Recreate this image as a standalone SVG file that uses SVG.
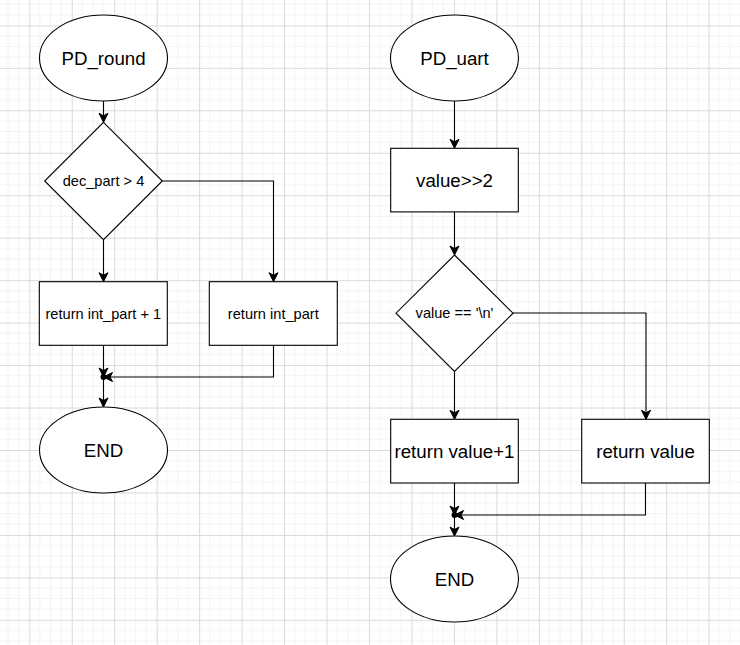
<svg xmlns="http://www.w3.org/2000/svg" width="740" height="645" viewBox="0 0 740 645">
<style>
.s{fill:#fff;stroke:#000;stroke-width:1.1}
.c{fill:none;stroke:#000;stroke-width:1.1}
.t{font-family:"Liberation Sans",Arial,sans-serif;fill:#000;text-anchor:middle;dominant-baseline:central}
.L{font-size:18.7px}
.S{font-size:14.6px}
</style>
<defs>
<pattern id="grid" patternUnits="userSpaceOnUse" x="29.3" y="25.4" width="42.46" height="42.46">
<path d="M10.615,0V42.46M21.23,0V42.46M31.845,0V42.46M0,10.615H42.46M0,21.23H42.46M0,31.845H42.46" stroke="#f3f3f3" stroke-width="1" fill="none"/>
<path d="M0.5,0V42.46M0,0.5H42.46" stroke="#dadada" stroke-width="1" fill="none"/>
</pattern>
<marker id="ar" markerUnits="userSpaceOnUse" markerWidth="12" markerHeight="12" refX="9" refY="4.5" orient="auto" overflow="visible">
<path d="M0,0 L9,4.5 L0,9 L2.5,4.5 z" fill="#000" stroke="#000" stroke-width="1"/>
</marker>
</defs>
<rect x="0" y="0" width="740" height="645" fill="#fff"/>
<rect x="0" y="0" width="740" height="645" fill="url(#grid)"/>

<g id="connectors">
<path class="c" d="M103.5,101V122.3" marker-end="url(#ar)"/>
<path class="c" d="M103.5,239.7V281.7" marker-end="url(#ar)"/>
<path class="c" d="M162.3,181H273.5V281.7" marker-end="url(#ar)"/>
<path class="c" d="M103.5,345.3V377" marker-end="url(#ar)"/>
<path class="c" d="M273.5,345.3V377H103.5" marker-end="url(#ar)"/>
<path class="c" d="M103.5,377V407" marker-end="url(#ar)"/>
<circle cx="103.5" cy="377" r="3" fill="#000"/>

<path class="c" d="M454.5,101V148.3" marker-end="url(#ar)"/>
<path class="c" d="M454.5,211.9V255" marker-end="url(#ar)"/>
<path class="c" d="M513,313H646V419.3" marker-end="url(#ar)"/>
<path class="c" d="M454.5,371.4V419.3" marker-end="url(#ar)"/>
<path class="c" d="M454.5,483V515" marker-end="url(#ar)"/>
<path class="c" d="M645.5,483V515H454.5" marker-end="url(#ar)"/>
<path class="c" d="M454.5,515V536" marker-end="url(#ar)"/>
<circle cx="454.5" cy="515" r="3" fill="#000"/>
</g>

<g id="pd_round">
<ellipse class="s" cx="103.5" cy="58" rx="64" ry="43"/>
<text class="t L" x="103.5" y="58">PD_round</text>
</g>
<g id="dec_check">
<polygon class="s" points="103.5,122.3 162.3,181 103.5,239.7 44.7,181"/>
<text class="t S" x="103.5" y="181">dec_part &gt; 4</text>
</g>
<g id="ret_plus1">
<rect class="s" x="39.3" y="281.7" width="128" height="63.6"/>
<text class="t S" x="103.3" y="313.5">return int_part + 1</text>
</g>
<g id="ret_int">
<rect class="s" x="209.3" y="281.7" width="128" height="63.6"/>
<text class="t S" x="273.3" y="313.5">return int_part</text>
</g>
<g id="end_left">
<ellipse class="s" cx="103.5" cy="450" rx="64" ry="43"/>
<text class="t L" x="103.5" y="450">END</text>
</g>

<g id="pd_uart">
<ellipse class="s" cx="454.5" cy="58" rx="64" ry="43"/>
<text class="t L" x="454.5" y="58">PD_uart</text>
</g>
<g id="shift">
<rect class="s" x="390.7" y="148.3" width="127.6" height="63.6"/>
<text class="t L" x="454.5" y="180">value&gt;&gt;2</text>
</g>
<g id="nl_check">
<polygon class="s" points="454.5,255 513,313.2 454.5,371.4 396,313.2"/>
<text class="t S" x="454.5" y="313.2">value == '\n'</text>
</g>
<g id="ret_val1">
<rect class="s" x="390.7" y="419.3" width="127.6" height="63.7"/>
<text class="t L" x="454.5" y="451">return value+1</text>
</g>
<g id="ret_val">
<rect class="s" x="581.7" y="419.3" width="127.6" height="63.7"/>
<text class="t L" x="645.5" y="451">return value</text>
</g>
<g id="end_right">
<ellipse class="s" cx="454.5" cy="579" rx="64" ry="43"/>
<text class="t L" x="454.5" y="579">END</text>
</g>
</svg>
